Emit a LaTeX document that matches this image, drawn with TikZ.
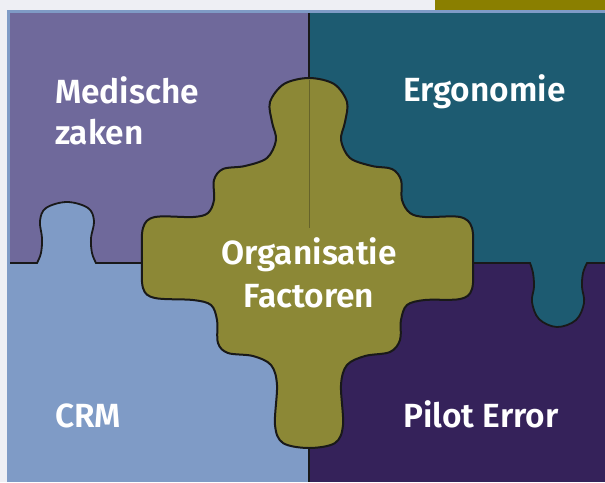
\documentclass[tikz,border=0pt]{standalone}
\usepackage{fontspec}
\setmainfont{Fira Sans}[BoldFont={Fira Sans SemiBold}]

\definecolor{pagebg}{HTML}{EEEFF4}
\definecolor{topbar}{HTML}{8A7F00}
\definecolor{medpurple}{HTML}{6F699B}
\definecolor{ergoteal}{HTML}{1D5B71}
\definecolor{crmblue}{HTML}{7F9BC6}
\definecolor{pilotpurple}{HTML}{35225A}
\definecolor{orgolive}{HTML}{8C8836}
\definecolor{orgline}{HTML}{66632A}

\tikzset{
  tilename/.style={text=white, inner sep=0pt, font=\bfseries\fontsize{33.5}{41}\selectfont},
  seam/.style={draw=black!90, line width=1.8pt},
  piece/.style={fill=orgolive, draw=black!90, line width=2pt},
}

\begin{document}
\begin{tikzpicture}[x=1pt,y=-1pt]
  \useasboundingbox (0,0) rectangle (605,482);
  % page, bar and frame
  \fill[pagebg] (0,0) rectangle (605,482);
  \fill[topbar] (435,0) rectangle (605,9.5);
  \fill[crmblue] (7,9.5) rectangle (605,482);
  % the four tiles
  \fill[medpurple] (10,13) rectangle (309,263);
  \fill[ergoteal] (309,13) rectangle (605,263);
  \fill[crmblue] (10,263) rectangle (309,482);
  \fill[pilotpurple] (309,263) rectangle (605,482);
  % seams with their knobs
  \draw[seam, fill=crmblue] (10,263) -- (37,263) -- plot[smooth, tension=0.6] coordinates
    {(37,263) (41,253) (42,238) (40,221) (46,208) (67,202) (88,208) (94,221) (91,238) (92,253) (96,263)}
    -- (309,263);
  \draw[seam, fill=ergoteal] (309,263) -- (530,263) -- plot[smooth, tension=0.6] coordinates
    {(530,263) (533,273) (534,287) (532,302) (539,319) (557,327) (576,320) (584,303) (582,287) (583,273) (587,263)}
    -- (605,263);
  \draw[seam] (309,13) -- (309,482);
  % middle piece
  \filldraw[piece] plot[smooth cycle, tension=0.55] coordinates {
    (309,78) (334,84) (347,102) (345,122) (341,140) (350,158) (372,166) (392,169)
    (401,180) (402,200) (410,213) (425,217) (460,217) (472,228) (473,258) (472,289)
    (460,299) (425,300) (407,305) (401,320) (400,340) (390,352) (365,356) (347,365)
    (341,385) (343,425) (335,443) (309,448) (283,443) (275,425) (277,385) (271,365)
    (253,356) (228,353) (218,343) (217,320) (211,305) (193,300) (155,298) (143,288)
    (142,258) (143,228) (155,217) (193,217) (208,213) (214,200) (214,180) (223,169)
    (245,166) (267,158) (276,140) (272,122) (270,102) (284,84)};
  \draw[orgline, line width=0.6pt] (309,80) -- (309,228);
  % names
  \node[tilename, align=left, anchor=west] (med) at (55,111) {Medische\\zaken};
  \node[tilename, anchor=base west] (ergo) at (403,101) {Ergonomie};
  \node[tilename, align=center, font=\bfseries\fontsize{33.5}{43.5}\selectfont] (org) at (309,273) {Organisatie\\Factoren};
  \node[tilename, anchor=base west] (crm) at (55,427) {CRM};
  \node[tilename, anchor=base west] (pilot) at (403,427) {Pilot Error};
\end{tikzpicture}
\end{document}
